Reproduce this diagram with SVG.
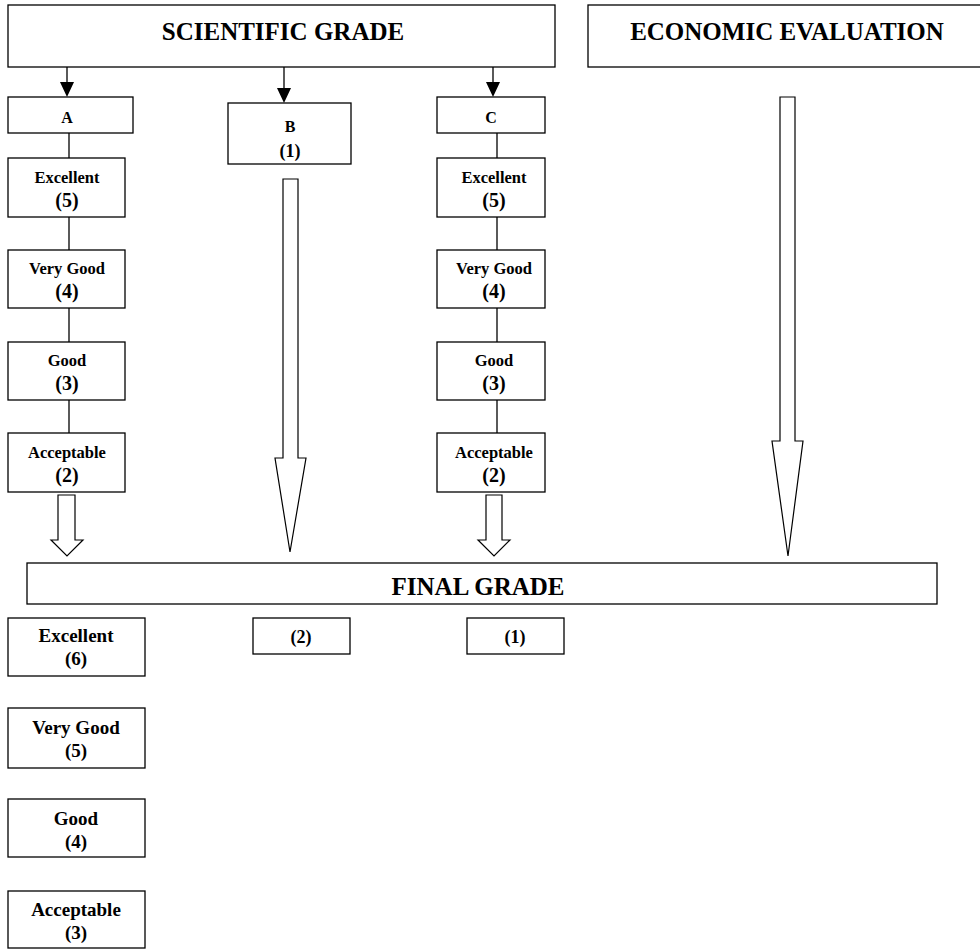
<svg xmlns="http://www.w3.org/2000/svg" width="980" height="949" viewBox="0 0 980 949">
<style>
.box{fill:#fff;stroke:#000;stroke-width:1.3}
.t{font-family:"Liberation Serif","Times New Roman",serif;font-weight:bold;text-anchor:middle;fill:#000}
.h{font-size:25px}
.l{font-size:16px}
.s{font-size:16.5px}
.p{font-size:18px}
.n{font-size:20px}
.f{font-size:19px}
.fn{font-size:19px}
.ln{stroke:#000;stroke-width:1.3;fill:none}
.ha{fill:#fff;stroke:#000;stroke-width:1.2}
</style>
<rect width="980" height="949" fill="#fff"/>
<g id="connectors">
<line class="ln" x1="67" y1="67" x2="67" y2="84"/><polygon points="60,82 74,82 67,97" fill="#000"/>
<line class="ln" x1="284" y1="67" x2="284" y2="90"/><polygon points="277,88 291,88 284,103" fill="#000"/>
<line class="ln" x1="493" y1="67" x2="493" y2="84"/><polygon points="486,82 500,82 493,97" fill="#000"/>
<line class="ln" x1="69" y1="124" x2="69" y2="158"/>
<line class="ln" x1="69" y1="217" x2="69" y2="250"/>
<line class="ln" x1="69" y1="308" x2="69" y2="342"/>
<line class="ln" x1="69" y1="400" x2="69" y2="433"/>
<line class="ln" x1="497" y1="124" x2="497" y2="158"/>
<line class="ln" x1="497" y1="217" x2="497" y2="250"/>
<line class="ln" x1="497" y1="308" x2="497" y2="342"/>
<line class="ln" x1="497" y1="400" x2="497" y2="433"/>
<polygon class="ha" points="58,495 75,495 75,540 83,540 67,556 51,540 58,540"/>
<polygon class="ha" points="283,179 298,179 298,458 306,458 290,552 275,458 283,458"/>
<polygon class="ha" points="486,495 502,495 502,540 510,540 494,556 478,540 486,540"/>
<polygon class="ha" points="780,97 795,97 795,441 803,441 788,556 772,441 780,441"/>
</g>
<g id="scientific"><rect class="box" x="8" y="5" width="547" height="62"/><text class="t h" x="283" y="40">SCIENTIFIC GRADE</text></g>
<g id="economic"><rect class="box" x="588" y="5" width="400" height="62"/><text class="t h" x="787" y="40">ECONOMIC EVALUATION</text></g>
<g id="A"><rect class="box" x="8" y="97" width="125" height="36"/><text class="t l" x="67" y="123">A</text></g>
<g id="B"><rect class="box" x="228" y="103" width="123" height="61"/><text class="t l" x="290" y="132">B</text><text class="t p" x="290" y="157">(1)</text></g>
<g id="C"><rect class="box" x="437" y="97" width="108" height="36"/><text class="t l" x="491" y="123">C</text></g>
<g id="a-exc"><rect class="box" x="8" y="158" width="117" height="59"/><text class="t s" x="67" y="183">Excellent</text><text class="t n" x="67" y="207">(5)</text></g>
<g id="a-vg"><rect class="box" x="8" y="250" width="117" height="58"/><text class="t s" x="67" y="274">Very Good</text><text class="t n" x="67" y="298">(4)</text></g>
<g id="a-good"><rect class="box" x="8" y="342" width="117" height="58"/><text class="t s" x="67" y="366">Good</text><text class="t n" x="67" y="390">(3)</text></g>
<g id="a-acc"><rect class="box" x="8" y="433" width="117" height="59"/><text class="t s" x="67" y="458">Acceptable</text><text class="t n" x="67" y="482">(2)</text></g>
<g id="c-exc"><rect class="box" x="437" y="158" width="108" height="59"/><text class="t s" x="494" y="183">Excellent</text><text class="t n" x="494" y="207">(5)</text></g>
<g id="c-vg"><rect class="box" x="437" y="250" width="108" height="58"/><text class="t s" x="494" y="274">Very Good</text><text class="t n" x="494" y="298">(4)</text></g>
<g id="c-good"><rect class="box" x="437" y="342" width="108" height="58"/><text class="t s" x="494" y="366">Good</text><text class="t n" x="494" y="390">(3)</text></g>
<g id="c-acc"><rect class="box" x="437" y="433" width="108" height="59"/><text class="t s" x="494" y="458">Acceptable</text><text class="t n" x="494" y="482">(2)</text></g>
<g id="final"><rect class="box" x="27" y="563" width="910" height="41"/><text class="t h" x="478" y="595">FINAL GRADE</text></g>
<g id="f-exc"><rect class="box" x="8" y="618" width="137" height="58"/><text class="t f" x="76" y="642">Excellent</text><text class="t fn" x="76" y="665">(6)</text></g>
<g id="f-2"><rect class="box" x="253" y="618" width="97" height="36"/><text class="t p" x="301" y="643">(2)</text></g>
<g id="f-1"><rect class="box" x="467" y="618" width="97" height="36"/><text class="t p" x="515" y="643">(1)</text></g>
<g id="f-vg"><rect class="box" x="8" y="708" width="137" height="60"/><text class="t f" x="76" y="734">Very Good</text><text class="t fn" x="76" y="757">(5)</text></g>
<g id="f-good"><rect class="box" x="8" y="799" width="137" height="58"/><text class="t f" x="76" y="825">Good</text><text class="t fn" x="76" y="848">(4)</text></g>
<g id="f-acc"><rect class="box" x="8" y="891" width="137" height="57"/><text class="t f" x="76" y="916">Acceptable</text><text class="t fn" x="76" y="939">(3)</text></g>
</svg>
